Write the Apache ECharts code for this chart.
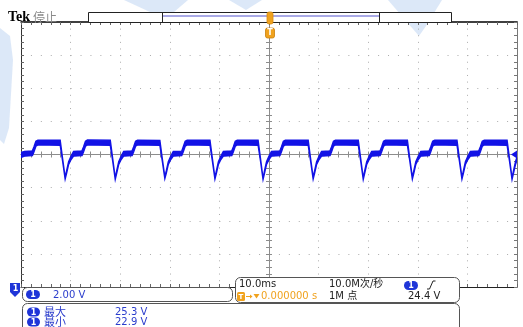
<!DOCTYPE html>
<html><head><meta charset="utf-8">
<script src="https://cdn.jsdelivr.net/npm/echarts@6/dist/echarts.min.js"></script>
<style>html,body{margin:0;padding:0;background:#fff;overflow:hidden}#c{width:523px;height:327px}</style>
</head><body><div id="c"></div>
<script>
// ---- data (time in ms, voltage envelope in V) ----
const timeMs = [-50.0,-49.3,-47.7,-47.4,-47.0,-46.6,-42.1,-41.6,-41.1,-40.8,-40.4,-39.9,-39.4,-37.7,-37.4,-37.0,-36.6,
 -32.0,-31.5,-31.0,-30.7,-30.3,-29.8,-29.3,-27.6,-27.3,-26.9,-26.5,
 -22.0,-21.5,-21.0,-20.7,-20.3,-19.8,-19.3,-17.6,-17.3,-16.9,-16.5,
 -11.9,-11.4,-10.9,-10.6,-10.2,-9.7,-9.2,-7.5,-7.2,-6.8,-6.4,
 -2.2,-1.7,-1.2,-0.9,-0.5,0.0,0.5,2.2,2.5,2.9,3.3,
 7.9,8.4,8.9,9.2,9.6,10.1,10.6,12.3,12.6,13.0,13.4,
 18.0,18.5,19.0,19.3,19.7,20.2,20.7,22.4,22.7,23.1,23.5,
 27.9,28.4,28.9,29.2,29.6,30.1,30.6,32.3,32.6,33.0,33.4,
 37.9,38.4,38.9,39.2,39.6,40.1,40.6,42.3,42.6,43.0,43.4,
 48.0,48.5,49.0,49.3,49.7,50.0];
const upperV = [24.52,24.58,24.62,24.85,25.20,25.27,25.26,24.12,23.02,23.42,23.97,24.30,24.58,24.62,24.85,25.20,25.28,
 25.26,24.12,22.98,23.42,23.97,24.30,24.58,24.62,24.85,25.20,25.27,
 25.25,24.12,23.05,23.42,23.97,24.30,24.58,24.60,24.85,25.20,25.27,
 25.26,24.12,23.00,23.42,23.97,24.30,24.58,24.62,24.85,25.20,25.27,
 25.26,24.12,22.95,23.42,23.97,24.30,24.58,24.62,24.85,25.20,25.27,
 25.26,24.12,23.02,23.42,23.97,24.30,24.58,24.62,24.85,25.20,25.27,
 25.26,24.12,22.98,23.42,23.97,24.30,24.58,24.62,24.85,25.20,25.27,
 25.26,24.12,23.02,23.42,23.97,24.30,24.58,24.62,24.85,25.20,25.27,
 25.26,24.12,23.00,23.42,23.97,24.30,24.58,24.62,24.85,25.20,25.27,
 25.26,24.12,22.98,23.42,23.97,24.25];
const lowerV = [24.22,24.30,24.33,24.55,24.90,24.98,24.96,23.98,22.92,23.28,23.80,24.10,24.30,24.33,24.55,24.90,24.98,
 24.95,23.98,22.90,23.28,23.80,24.10,24.30,24.33,24.55,24.90,24.98,
 24.95,23.98,22.95,23.28,23.80,24.10,24.30,24.33,24.55,24.90,24.98,
 24.96,23.98,22.92,23.28,23.80,24.10,24.30,24.33,24.55,24.90,24.98,
 24.96,23.98,22.90,23.28,23.80,24.10,24.30,24.33,24.55,24.90,24.98,
 24.96,23.98,22.92,23.28,23.80,24.10,24.30,24.33,24.55,24.90,24.98,
 24.96,23.98,22.90,23.28,23.80,24.10,24.30,24.33,24.55,24.90,24.98,
 24.96,23.98,22.92,23.28,23.80,24.10,24.30,24.33,24.55,24.90,24.98,
 24.96,23.98,22.92,23.28,23.80,24.10,24.30,24.33,24.55,24.90,24.98,
 24.96,23.98,22.90,23.28,23.80,24.05];
const voltsPerDiv = 2.0;
const offsetV = 24.4;
const triggerV = 24.4;
// ---- texts ----
const headerTexts = ['Tek', '停止'];
const scaleText = '2.00 V';
const timebaseTexts = ['10.0ms', '10.0M次/秒', '1M 点', '24.4 V', '0.000000 s'];
const measNames = ['最大', '最小'];
const measValues = ['25.3 V', '22.9 V'];
const chLabel = '1';

const toDiv = v => (v - offsetV) / voltsPerDiv;
const traceColor = '#1212e6';
const chBlue = '#1f35d8';
const orange = '#f0a21e';
const G = {left: 21, top: 22, width: 496, height: 265};

const tickCfg = c => ({show: true, inside: true, length: 3, lineStyle: {color: c, width: 1}});
const minorCfg = c => ({show: true, splitNumber: 5, length: 3, lineStyle: {color: c, width: 1}});
const xBase = {type: 'value', min: -50, max: 50, interval: 10, axisLabel: {show: false}, splitLine: {show: false}};
const yBase = {type: 'value', min: -4, max: 4, interval: 1, axisLabel: {show: false}, splitLine: {show: false}};

const chart = echarts.init(document.getElementById('c'));
const pill = (x, y, w, h) => ([
  {type: 'rect', shape: {x: x, y: y, width: w, height: h, r: h / 2}, style: {fill: chBlue}, z: 10},
  {type: 'text', style: {text: chLabel, x: x + w / 2, y: y + h / 2 + 0.5, fill: '#fff', font: 'bold 8px "DejaVu Sans"', align: 'center', verticalAlign: 'middle', textAlign: 'center', textVerticalAlign: 'middle'}, z: 11}
]);
const txt = (s, x, y, fill, font) => ({type: 'text', z: 11, style: {text: s, x: x, y: y, fill: fill, font: font || '10px "DejaVu Sans"', verticalAlign: 'middle', textVerticalAlign: 'middle'}});
const wm = pts => ({type: 'polygon', shape: {points: pts}, style: {fill: '#c4d9f4', opacity: 0.6}, z: -5, silent: true});

const graphics = [
  wm([[0, 28], [10, 36], [13, 60], [9, 128], [4, 144], [0, 140]]),
  wm([[124, 0], [188, 0], [174, 12], [163, 18]]),
  wm([[229, 0], [262, 0], [246, 10]]),
  wm([[388, 0], [442, 0], [426, 26], [419, 36]]),
  txt(headerTexts[0], 8, 17.5, '#000', 'bold 14px "Liberation Serif"'),
  txt(headerTexts[1], 33, 17.5, '#8a8a8a', '12px "Noto Sans CJK SC"'),
  // record bar
  {type: 'rect', shape: {x: 88.5, y: 12.5, width: 363, height: 10}, style: {fill: '#fff', stroke: '#222', lineWidth: 1}, z: 5},
  {type: 'line', shape: {x1: 162.5, y1: 12.5, x2: 162.5, y2: 22.5}, style: {stroke: '#222', lineWidth: 1}, z: 6},
  {type: 'line', shape: {x1: 379.5, y1: 12.5, x2: 379.5, y2: 22.5}, style: {stroke: '#222', lineWidth: 1}, z: 6},
  {type: 'line', shape: {x1: 163, y1: 16, x2: 379, y2: 16}, style: {stroke: '#a9a9e6', lineWidth: 2}, z: 6},
  {type: 'rect', shape: {x: 267, y: 12, width: 6, height: 12, r: 2}, style: {fill: orange, stroke: '#d88a10', lineWidth: 0.8}, z: 7},
  {type: 'rect', shape: {x: 265.5, y: 28, width: 9, height: 10, r: 2}, style: {fill: orange, stroke: '#c97f0a', lineWidth: 0.8}, z: 7},
  txt('T', 267.3, 33.3, '#fff', 'bold 8px "DejaVu Sans"'),
  // channel marker
  {type: 'polygon', shape: {points: [[10, 283], [20, 283], [20, 292], [15, 297], [10, 292]]}, style: {fill: chBlue}, z: 10},
  txt(chLabel, 12.8, 289, '#fff', 'bold 8px "DejaVu Sans"'),
  // panel A
  {type: 'rect', shape: {x: 22.5, y: 287.5, width: 210, height: 14, r: 5}, style: {fill: '#fff', stroke: '#555', lineWidth: 1}, z: 8},
  ...pill(26, 290, 14, 9),
  txt(scaleText, 53, 295, '#2a3ccc'),
  // panel B
  {type: 'rect', shape: {x: 235.5, y: 277.5, width: 224, height: 25, r: 5}, style: {fill: '#fff', stroke: '#555', lineWidth: 1}, z: 8},
  txt(timebaseTexts[0], 239, 284.5, '#222'),
  txt(timebaseTexts[1], 329, 284.5, '#222', '10px "DejaVu Sans", "Noto Sans CJK SC"'),
  ...pill(404, 281, 14, 9),
  {type: 'polyline', shape: {points: [[427, 289], [429.5, 289], [433, 281], [435.5, 281]]}, style: {stroke: '#222', lineWidth: 1, fill: null}, z: 11},
  {type: 'rect', shape: {x: 237, y: 292, width: 8, height: 9, r: 1.5}, style: {fill: orange}, z: 10},
  txt('T', 238.5, 296.8, '#fff', 'bold 7px "DejaVu Sans"'),
  {type: 'line', shape: {x1: 246, y1: 296.5, x2: 251, y2: 296.5}, style: {stroke: orange, lineWidth: 1}, z: 10},
  {type: 'polygon', shape: {points: [[250, 294.5], [252.5, 296.5], [250, 298.5]]}, style: {fill: orange}, z: 10},
  {type: 'polygon', shape: {points: [[253.5, 294], [259.5, 294], [256.5, 298.5]]}, style: {fill: orange}, z: 10},
  txt(timebaseTexts[4], 261, 296.5, orange),
  txt(timebaseTexts[2], 329, 296.5, '#222', '10px "DejaVu Sans", "Noto Sans CJK SC"'),
  txt(timebaseTexts[3], 408, 296.5, '#222'),
  // panel C
  {type: 'rect', shape: {x: 22.5, y: 303.5, width: 437, height: 30, r: 5}, style: {fill: '#fff', stroke: '#555', lineWidth: 1}, z: 8},
  ...pill(27, 307.5, 13, 9),
  ...pill(27, 317.5, 13, 9),
  txt(measNames[0], 44, 312, '#2a3ccc', '11px "Noto Sans CJK SC"'),
  txt(measNames[1], 44, 322, '#2a3ccc', '11px "Noto Sans CJK SC"'),
  txt(measValues[0], 115, 312, '#2a3ccc'),
  txt(measValues[1], 115, 322, '#2a3ccc')
];

chart.setOption({
  animation: false,
  backgroundColor: '#fff',
  grid: [
    {left: G.left, top: G.top, width: G.width, height: G.height, show: false},
    {left: G.left, top: G.top, width: G.width, height: G.height, show: false}
  ],
  xAxis: [
    {...xBase, gridIndex: 0, position: 'bottom', axisLine: {onZero: false, lineStyle: {color: '#222', width: 1}},
      axisTick: tickCfg('#666'), minorTick: minorCfg('#666'),
      splitLine: {show: true, lineStyle: {color: '#acacac', width: 1, type: [1, 5.62]}}},
    {...xBase, gridIndex: 0, position: 'top', axisLine: {onZero: false, lineStyle: {color: '#000', width: 1.5}},
      axisTick: tickCfg('#666'), minorTick: minorCfg('#666')},
    {...xBase, gridIndex: 1, position: 'bottom', axisLine: {onZero: true, lineStyle: {color: '#8c8c8c', width: 1}},
      axisTick: tickCfg('#8c8c8c'), minorTick: minorCfg('#8c8c8c')},
    {...xBase, gridIndex: 1, position: 'top', axisLine: {onZero: true, lineStyle: {color: '#8c8c8c', width: 1}},
      axisTick: tickCfg('#8c8c8c'), minorTick: minorCfg('#8c8c8c')}
  ],
  yAxis: [
    {...yBase, gridIndex: 0, position: 'left', axisLine: {onZero: false, lineStyle: {color: '#333', width: 1}},
      axisTick: tickCfg('#666'), minorTick: minorCfg('#666'),
      splitLine: {show: true, lineStyle: {color: '#acacac', width: 1, type: [1, 8.92]}}},
    {...yBase, gridIndex: 0, position: 'right', axisLine: {onZero: false, lineStyle: {color: '#777', width: 1}},
      axisTick: tickCfg('#777'), minorTick: minorCfg('#777')},
    {...yBase, gridIndex: 1, position: 'left', axisLine: {onZero: true, lineStyle: {color: '#8c8c8c', width: 1}},
      axisTick: tickCfg('#8c8c8c'), minorTick: minorCfg('#8c8c8c')},
    {...yBase, gridIndex: 1, position: 'right', axisLine: {onZero: true, lineStyle: {color: '#8c8c8c', width: 1}},
      axisTick: tickCfg('#8c8c8c'), minorTick: minorCfg('#8c8c8c')}
  ],
  series: [{
    type: 'custom', xAxisIndex: 0, yAxisIndex: 0, z: 5, clip: true,
    data: timeMs.map((t, i) => [t, toDiv(upperV[i]), toDiv(lowerV[i])]),
    encode: {x: 0, y: [1, 2]},
    renderItem: function (params, api) {
      if (params.dataIndex !== 0) return null;
      const pts = [];
      for (let i = 0; i < timeMs.length; i++) pts.push(api.coord([timeMs[i], toDiv(upperV[i])]));
      for (let i = timeMs.length - 1; i >= 0; i--) pts.push(api.coord([timeMs[i], toDiv(lowerV[i])]));
      return {type: 'polygon', shape: {points: pts}, style: {fill: traceColor, stroke: traceColor, lineWidth: 1.4}};
    }
  }],
  graphic: graphics
});
// trigger level marker on the right edge, placed through the axis scale
const tp = chart.convertToPixel({xAxisIndex: 0, yAxisIndex: 0}, [50, toDiv(triggerV)]);
chart.setOption({graphic: graphics.concat([{type: 'polygon', z: 12,
  shape: {points: [[tp[0] - 6, tp[1]], [tp[0], tp[1] - 4], [tp[0], tp[1] + 4]]}, style: {fill: traceColor}}])});
</script></body></html>
